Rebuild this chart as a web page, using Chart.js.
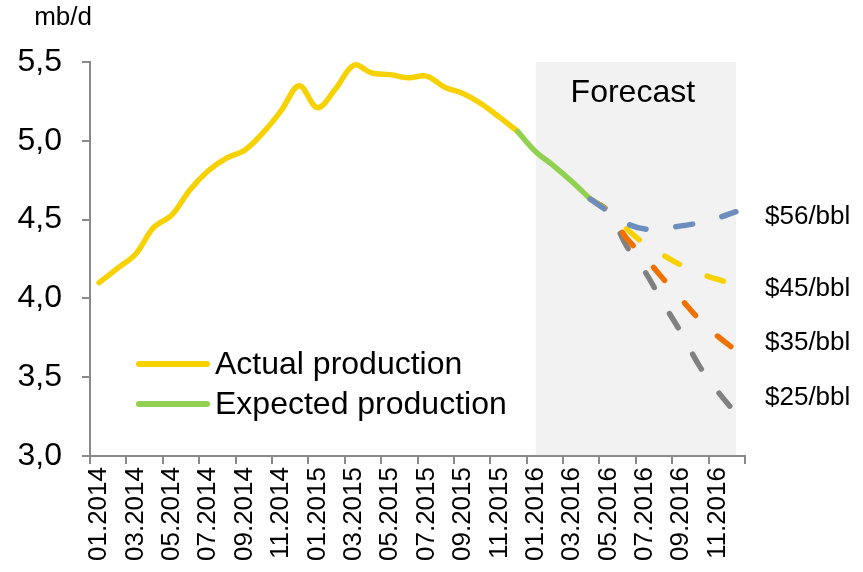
<!DOCTYPE html>
<html>
<head>
<meta charset="utf-8">
<script src="https://cdn.jsdelivr.net/npm/chart.js@4/dist/chart.umd.min.js"></script>
<style>
  html, body { margin: 0; padding: 0; background: #ffffff; }
  #wrap { position: relative; width: 863px; height: 572px; }
</style>
</head>
<body>
<div id="wrap"><canvas id="chart"></canvas></div>
<script>
// Monthly categories, 01.2014 – 12.2016
const months = [
  '01.2014','02.2014','03.2014','04.2014','05.2014','06.2014','07.2014','08.2014','09.2014','10.2014','11.2014','12.2014',
  '01.2015','02.2015','03.2015','04.2015','05.2015','06.2015','07.2015','08.2015','09.2015','10.2015','11.2015','12.2015',
  '01.2016','02.2016','03.2016','04.2016','05.2016','06.2016','07.2016','08.2016','09.2016','10.2016','11.2016','12.2016'
];

// Production, mb/d
const actualStart = '01.2014';
const actualProduction = [
  4.10, 4.19, 4.28, 4.45, 4.53, 4.69, 4.81, 4.89, 4.94, 5.05, 5.19, 5.35,
  5.21, 5.33, 5.48, 5.43, 5.42, 5.40, 5.41, 5.34, 5.30, 5.235, 5.15, 5.06
];

const expectedStart = '12.2015';
const expectedProduction = [5.06, 4.93, 4.84, 4.74, 4.63];

// Price scenarios, 04.2016 onward
const scenarioStart = '04.2016';
const scenario56 = [4.63, 4.55, 4.475, 4.44, 4.445, 4.46, 4.48, 4.51, 4.55];
const scenario45 = [4.63, 4.55, 4.44, 4.345, 4.275, 4.21, 4.16, 4.12, 4.09];
const scenario35 = [4.63, 4.55, 4.38, 4.26, 4.125, 3.995, 3.865, 3.76, 3.67];
const scenario25 = [4.63, 4.55, 4.33, 4.17, 3.97, 3.78, 3.57, 3.41, 3.27];

const scenarioNames = ['$56/bbl', '$45/bbl', '$35/bbl', '$25/bbl'];
const seriesNames = ['Actual production', 'Expected production'];

const forecastFrom = '01.2016';
const forecastTo = '12.2016';

const yTicks = { min: 3.0, max: 5.5, step: 0.5 };

// Align a partial series with the month categories
function place(values, start) {
  const s = months.indexOf(start);
  return months.map((m, i) => (i >= s && i < s + values.length) ? values[i - s] : null);
}

const FONT = "'Liberation Sans', Arial, Helvetica, sans-serif";
const AXIS = '#8a8a8a';
const YELLOW = '#f7d100';
const GREEN = '#92d050';
const BLUE = '#6c8ebf';
const ORANGE = '#f07000';
const GREY = '#808080';

Chart.defaults.font.family = FONT;
Chart.defaults.color = '#000000';

const solid = (label, data, color, keyOrder) => ({
  label, data, borderColor: color, backgroundColor: color,
  borderWidth: 5.5, borderCapStyle: 'round', borderJoinStyle: 'round',
  pointRadius: 0, pointHoverRadius: 0, tension: 0.35, fill: false,
  showInKey: true, keyOrder
});
const dashed = (label, data, color) => ({
  label, data, borderColor: color, backgroundColor: color,
  borderWidth: 5.5, borderCapStyle: 'round', borderJoinStyle: 'round',
  borderDash: [17, 30], pointRadius: 0, pointHoverRadius: 0,
  tension: 0.35, fill: false
});

// Shaded forecast period with its caption
const forecastBand = {
  id: 'forecastBand',
  beforeDatasetsDraw(chart) {
    const { ctx, scales: { x, y }, chartArea } = chart;
    const x0 = x.getPixelForValue(months.indexOf(forecastFrom));
    const x1 = x.getPixelForValue(months.indexOf(forecastTo));
    const top = y.getPixelForValue(yTicks.max);
    ctx.save();
    ctx.fillStyle = '#f2f2f2';
    ctx.fillRect(x0, top, x1 - x0, chartArea.bottom - top - 1);
    ctx.fillStyle = '#000000';
    ctx.font = `32px ${FONT}`;
    ctx.textAlign = 'center';
    ctx.textBaseline = 'middle';
    ctx.fillText('Forecast', (x0 + x1) / 2 - 3, top + 31);
    ctx.restore();
  }
};

// Unit caption, in-plot key and scenario labels
const annotations = {
  id: 'annotations',
  afterDraw(chart) {
    const { ctx, scales: { y }, chartArea } = chart;
    ctx.save();
    ctx.fillStyle = '#000000';

    ctx.font = `26px ${FONT}`;
    ctx.textAlign = 'right';
    ctx.textBaseline = 'middle';
    ctx.fillText('mb/d', chartArea.left + 2, 18);

    // key
    const items = chart.data.datasets.filter(d => d.showInKey).sort((a, b) => a.keyOrder - b.keyOrder);
    const kx = chartArea.left + 49;
    let ky = 364;
    ctx.font = `32px ${FONT}`;
    ctx.textAlign = 'left';
    items.forEach(d => {
      ctx.strokeStyle = d.borderColor;
      ctx.lineWidth = 6;
      ctx.lineCap = 'round';
      ctx.beginPath();
      ctx.moveTo(kx, ky);
      ctx.lineTo(kx + 68, ky);
      ctx.stroke();
      ctx.fillText(d.label, kx + 76, ky + 1);
      ky += 40;
    });

    // scenario labels at the right
    const labelAt = [4.52, 4.06, 3.72, 3.37];
    ctx.font = `26px ${FONT}`;
    scenarioNames.forEach((name, i) => {
      ctx.fillText(name, chartArea.right + 20, y.getPixelForValue(labelAt[i]));
    });
    ctx.restore();
  }
};

new Chart(document.getElementById('chart'), {
  type: 'line',
  data: {
    labels: months,
    datasets: [
      dashed(scenarioNames[0], place(scenario56, scenarioStart), BLUE),
      dashed(scenarioNames[1], place(scenario45, scenarioStart), YELLOW),
      dashed(scenarioNames[2], place(scenario35, scenarioStart), ORANGE),
      dashed(scenarioNames[3], place(scenario25, scenarioStart), GREY),
      solid(seriesNames[1], place(expectedProduction, expectedStart), GREEN, 2),
      solid(seriesNames[0], place(actualProduction, actualStart), YELLOW, 1)
    ]
  },
  options: {
    responsive: true,
    maintainAspectRatio: false,
    animation: false,
    layout: { padding: { left: 18, right: 118, top: 62, bottom: 12 } },
    plugins: {
      legend: { display: false },
      tooltip: { enabled: false }
    },
    scales: {
      x: {
        type: 'category',
        offset: true,
        afterFit: s => { s.height = 104; },
        grid: {
          display: true,
          offset: true,
          drawOnChartArea: false,
          drawTicks: true,
          tickLength: 8,
          lineWidth: 2,
          color: AXIS,
          tickColor: c => (c.index === undefined || c.index % 2 === 0) ? AXIS : 'rgba(0,0,0,0)'
        },
        border: { display: true, color: AXIS, width: 2 },
        ticks: {
          autoSkip: false,
          minRotation: 90,
          maxRotation: 90,
          padding: 3,
          font: { size: 26 },
          color: '#000000',
          callback: function (v, i) { return i % 2 === 0 ? this.getLabelForValue(v) : ''; }
        }
      },
      y: {
        min: yTicks.min,
        max: yTicks.max,
        afterFit: s => { s.width = 72; },
        grid: {
          display: true,
          drawOnChartArea: false,
          drawTicks: true,
          tickLength: 8,
          lineWidth: 2,
          color: AXIS
        },
        border: { display: true, color: AXIS, width: 2 },
        ticks: {
          stepSize: yTicks.step,
          padding: 20,
          font: { size: 32 },
          color: '#000000',
          callback: v => v.toFixed(1).replace('.', ',')
        }
      }
    }
  },
  plugins: [forecastBand, annotations]
});
</script>
</body>
</html>
